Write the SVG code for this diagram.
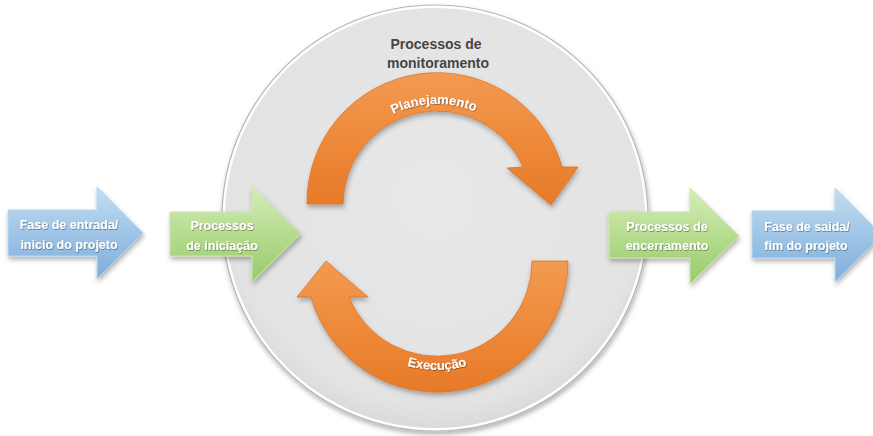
<svg xmlns="http://www.w3.org/2000/svg" width="873" height="436" viewBox="0 0 873 436">
  <defs>
    <linearGradient id="gBlue" x1="0" y1="0" x2="0" y2="1">
      <stop offset="0" stop-color="#C3DDF2"/>
      <stop offset="0.5" stop-color="#9FC5E7"/>
      <stop offset="1" stop-color="#7DAEDA"/>
    </linearGradient>
    <linearGradient id="gGreen" x1="0" y1="0" x2="0" y2="1">
      <stop offset="0" stop-color="#D6EDBB"/>
      <stop offset="0.5" stop-color="#B6DC8F"/>
      <stop offset="1" stop-color="#98CA6A"/>
    </linearGradient>
    <linearGradient id="gOrange" x1="0" y1="0" x2="0" y2="1">
      <stop offset="0" stop-color="#F29A52"/>
      <stop offset="0.5" stop-color="#EE8A3A"/>
      <stop offset="1" stop-color="#E67A28"/>
    </linearGradient>
    <radialGradient id="gCircle" cx="0.5" cy="0.45" r="0.55">
      <stop offset="0" stop-color="#E8E8E8"/>
      <stop offset="0.9" stop-color="#E3E3E3"/>
      <stop offset="1" stop-color="#DADADA"/>
    </radialGradient>
    <filter id="shadow" x="-20%" y="-20%" width="140%" height="140%">
      <feDropShadow dx="1" dy="3" stdDeviation="2.5" flood-color="#000" flood-opacity="0.3"/>
    </filter>
    <filter id="tshadow" x="-10%" y="-30%" width="120%" height="160%">
      <feDropShadow dx="0.6" dy="0.8" stdDeviation="0.6" flood-color="#000" flood-opacity="0.45"/>
    </filter>
    <path id="arcTop" d="M 337 204 A 100 100 0 0 1 537 204"/>
    <path id="arcBot" d="M 328 261 A 109 109 0 0 0 546 261"/>
  </defs>
  <style>
    .lbl { font-family: "Liberation Sans", Arial, sans-serif; font-weight: bold; font-size: 12.5px; fill: #FFFFFF; text-anchor: middle; }
    .cyc { font-family: "Liberation Sans", Arial, sans-serif; font-weight: bold; font-size: 13px; fill: #FFFFFF; }
    .title { font-family: "Liberation Sans", Arial, sans-serif; font-weight: bold; font-size: 14px; fill: #454545; text-anchor: middle; }
    .blue { fill: url(#gBlue); stroke: #B8D6EF; stroke-width: 1; }
    .green { fill: url(#gGreen); stroke: #C9E6AA; stroke-width: 1; }
    .orange { fill: url(#gOrange); stroke: #DD7426; stroke-width: 0.8; }
  </style>

  <g id="monitoramento">
    <circle cx="435" cy="218" r="213" fill="#FFFFFF" stroke="#B5B5B5" stroke-width="1.2" filter="url(#shadow)"/>
    <circle cx="435" cy="218" r="210" fill="url(#gCircle)"/>
    <text class="title" x="436" y="49">Processos de</text>
    <text class="title" x="438" y="68">monitoramento</text>
  </g>

  <g id="planejamento">
    <path class="orange" filter="url(#shadow)" d="M 307 204 A 130 130 0 0 1 562 167 L 578 167 L 551 205 L 507 168 L 523 167 A 94 94 0 0 0 343 204 Z"/>
    <text class="cyc" filter="url(#tshadow)"><textPath href="#arcTop" startOffset="49%" text-anchor="middle">Planejamento</textPath></text>
  </g>

  <g id="execucao">
    <path class="orange" filter="url(#shadow)" d="M 568 261 A 131 131 0 0 1 311 297 L 297 297 L 326 261 L 368 297 L 349 297 A 95 95 0 0 0 532 261 Z"/>
    <text class="cyc" filter="url(#tshadow)"><textPath href="#arcBot" startOffset="50%" text-anchor="middle">Execução</textPath></text>
  </g>

  <g id="fase-entrada">
    <polygon class="blue" filter="url(#shadow)" points="8,210 97,210 97,187 143,233 97,279 97,256 8,256"/>
    <text class="lbl" filter="url(#tshadow)" x="69" y="229">Fase de entrada/</text>
    <text class="lbl" filter="url(#tshadow)" x="69" y="249">inicio do projeto</text>
  </g>

  <g id="iniciacao">
    <polygon class="green" filter="url(#shadow)" points="170,212 252,212 252,186 301,234 252,282 252,256 170,256"/>
    <text class="lbl" filter="url(#tshadow)" x="222" y="230">Processos</text>
    <text class="lbl" filter="url(#tshadow)" x="222" y="250">de iniciação</text>
  </g>

  <g id="encerramento">
    <polygon class="green" filter="url(#shadow)" points="609,212 690,212 690,188 739,236 690,284 690,258 609,258"/>
    <text class="lbl" filter="url(#tshadow)" x="667" y="231">Processos de</text>
    <text class="lbl" filter="url(#tshadow)" x="667" y="250">encerramento</text>
  </g>

  <g id="fase-saida">
    <polygon class="blue" filter="url(#shadow)" points="752,211 835,211 835,188 882,235 835,282 835,258 752,258"/>
    <text class="lbl" filter="url(#tshadow)" x="807" y="231">Fase de saida/</text>
    <text class="lbl" filter="url(#tshadow)" x="806" y="250">fim do projeto</text>
  </g>

  <g id="connectors"></g>
</svg>
